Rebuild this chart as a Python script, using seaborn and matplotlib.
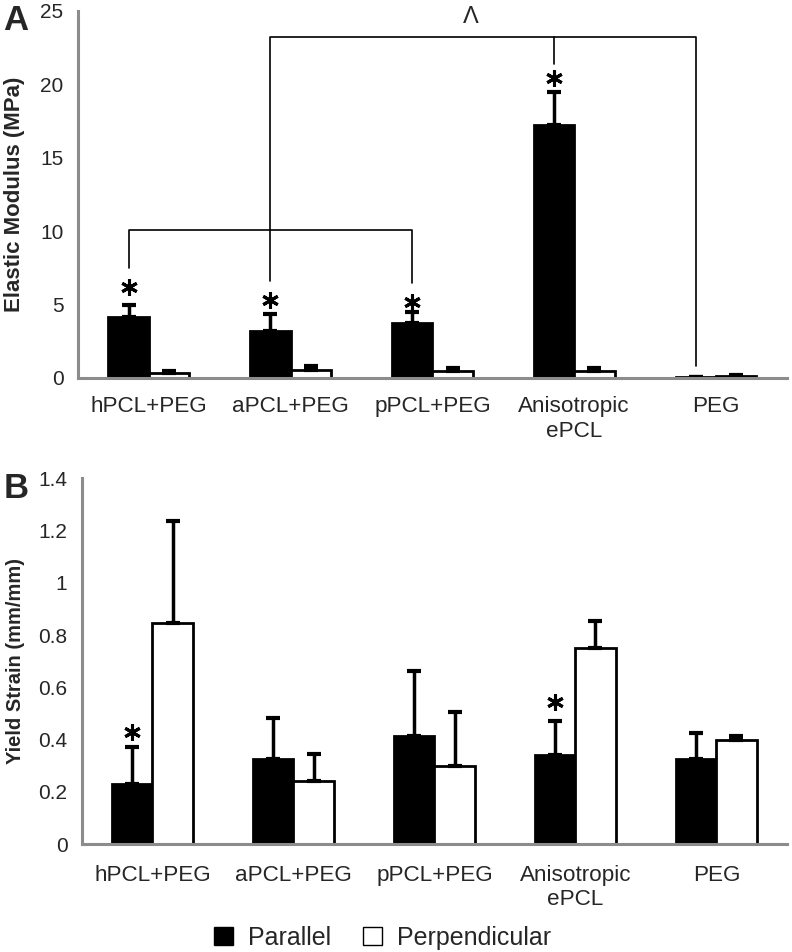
import seaborn as sns
import pandas as pd
import matplotlib
import matplotlib.pyplot as plt
from matplotlib.patches import Patch

matplotlib.use("Agg")

groups = ["hPCL+PEG", "aPCL+PEG", "pPCL+PEG", "Anisotropic\nePCL", "PEG"]
orientations = ["Parallel", "Perpendicular"]

# panel A: elastic modulus (MPa)
modulus_par = [4.15, 3.2, 3.72, 17.25, 0.05]
modulus_par_err = [0.82, 1.15, 0.75, 2.2, 0.0]
modulus_perp = [0.32, 0.52, 0.5, 0.5, 0.14]
modulus_perp_err = [0.18, 0.28, 0.15, 0.15, 0.05]

# panel B: yield strain (mm/mm)
strain_par = [0.23, 0.325, 0.412, 0.342, 0.325]
strain_par_err = [0.141, 0.159, 0.252, 0.131, 0.1]
strain_perp = [0.845, 0.242, 0.30, 0.752, 0.398]
strain_perp_err = [0.392, 0.102, 0.207, 0.103, 0.017]

mod_star = [6.2, 5.3, 5.2, 20.4]
strain_star = [(0, 0.43), (3, 0.545)]

GREY = "#8c8c8c"


def long_frame(par, perp, par_err, perp_err):
    rows = []
    for g, v, e in zip(groups, par, par_err):
        rows.append({"group": g, "orient": "Parallel", "value": v, "err": e})
    for g, v, e in zip(groups, perp, perp_err):
        rows.append({"group": g, "orient": "Perpendicular", "value": v, "err": e})
    return pd.DataFrame(rows)


def draw_panel(ax, df, ymax, yticks, yticklabels, ylabel, ylabel_size, xpad):
    sns.barplot(data=df, x="group", y="value", hue="orient", order=groups,
                hue_order=orientations, palette=["black", "white"],
                width=0.57, errorbar=None, edgecolor="black", linewidth=2,
                legend=False, ax=ax)
    # one-sided error bars on top of each bar
    for cont, orient in zip(ax.containers, orientations):
        sub = df[df["orient"] == orient].set_index("group").loc[groups]
        xs = [p.get_x() + p.get_width() / 2 for p in cont.patches]
        ax.errorbar(xs, sub["value"], yerr=[[0] * len(xs), sub["err"]],
                    fmt="none", ecolor="black", elinewidth=2.5,
                    capsize=5, capthick=3, zorder=1)
    ax.set_xlim(-0.5, 4.5)
    ax.set_ylim(0, ymax)
    ax.set_yticks(yticks)
    ax.set_yticklabels(yticklabels)
    ax.set_xlabel("")
    ax.set_ylabel(ylabel, fontsize=ylabel_size, fontweight="bold")
    ax.set_xticks(range(5))
    ax.set_xticklabels(groups, fontsize=16.2, linespacing=1.22)
    ax.set_xticks([0.5, 1.5, 2.5, 3.5, 4.5], minor=True)
    ax.tick_params(axis="x", which="major", length=0, pad=xpad)
    ax.tick_params(axis="x", which="minor", length=4.5, width=2, color=GREY)
    ax.tick_params(axis="y", length=4.5, width=2, color=GREY, labelsize=15,
                   pad=6)
    for side in ["top", "right"]:
        ax.spines[side].set_visible(False)
    for side in ["left", "bottom"]:
        ax.spines[side].set_color(GREY)
        ax.spines[side].set_linewidth(2.2)
    return ax


sns.set_style("white")
plt.rcParams["font.family"] = ["Liberation Sans", "DejaVu Sans"]

fig = plt.figure(figsize=(7.92, 9.52), dpi=100)
axA = fig.add_axes([0.0985, 0.603, 0.895, 0.3855])
axB = fig.add_axes([0.1035, 0.1134, 0.890, 0.384])

dfA = long_frame(modulus_par, modulus_perp, modulus_par_err, modulus_perp_err)
dfB = long_frame(strain_par, strain_perp, strain_par_err, strain_perp_err)

draw_panel(axA, dfA, 25, [0, 5, 10, 15, 20, 25],
           ["0", "5", "10", "15", "20", "25"], "Elastic Modulus (MPa)",
           16, 13)
draw_panel(axB, dfB, 1.4, [0, 0.2, 0.4, 0.6, 0.8, 1.0, 1.2, 1.4],
           ["0", "0.2", "0.4", "0.6", "0.8", "1", "1.2", "1.4"],
           "Yield Strain (mm/mm)", 14.5, 15)

# parallel bar centres
parA = [p.get_x() + p.get_width() / 2 for p in axA.containers[0].patches]
parB = [p.get_x() + p.get_width() / 2 for p in axB.containers[0].patches]

star = dict(marker=(6, 2, 0), markersize=12, mew=2.2, color="black",
            linestyle="none")
axA.plot(parA[:4], mod_star, **star)
axB.plot([parB[i] for i, _ in strain_star], [y for _, y in strain_star],
         **star)

# significance brackets in panel A
lw = 1.2
axA.plot([parA[0], parA[0], parA[2], parA[2]], [7.5, 10.05, 10.05, 6.5],
         color="black", lw=lw)
axA.plot([parA[1], parA[1], parA[4], parA[4]], [6.6, 23.25, 23.25, 0.8],
         color="black", lw=lw)
axA.plot([parA[3], parA[3]], [23.25, 21.4], color="black", lw=lw)
axA.text((parA[1] + parA[4]) / 2 - 0.09, 24.15, "\u039b", ha="center",
         va="baseline", fontsize=17)

fig.text(16 / 792, 1 - 30 / 952, "A", fontsize=25, fontweight="bold",
         ha="center", va="baseline")
fig.text(16 / 792, 1 - 498 / 952, "B", fontsize=25, fontweight="bold",
         ha="center", va="baseline")
axA.yaxis.set_label_coords(-0.075, 0.5)
axB.yaxis.set_label_coords(-0.081, 0.5)

handles = [Patch(facecolor="black", edgecolor="black", label="Parallel"),
           Patch(facecolor="white", edgecolor="black", label="Perpendicular")]
fig.legend(handles=handles, loc="center", bbox_to_anchor=(0.483, 0.015),
           ncol=2, frameon=False, fontsize=18, handlelength=0.75,
           handleheight=0.7, columnspacing=1.3, handletextpad=0.6)

fig.savefig("out.png", dpi=100)
